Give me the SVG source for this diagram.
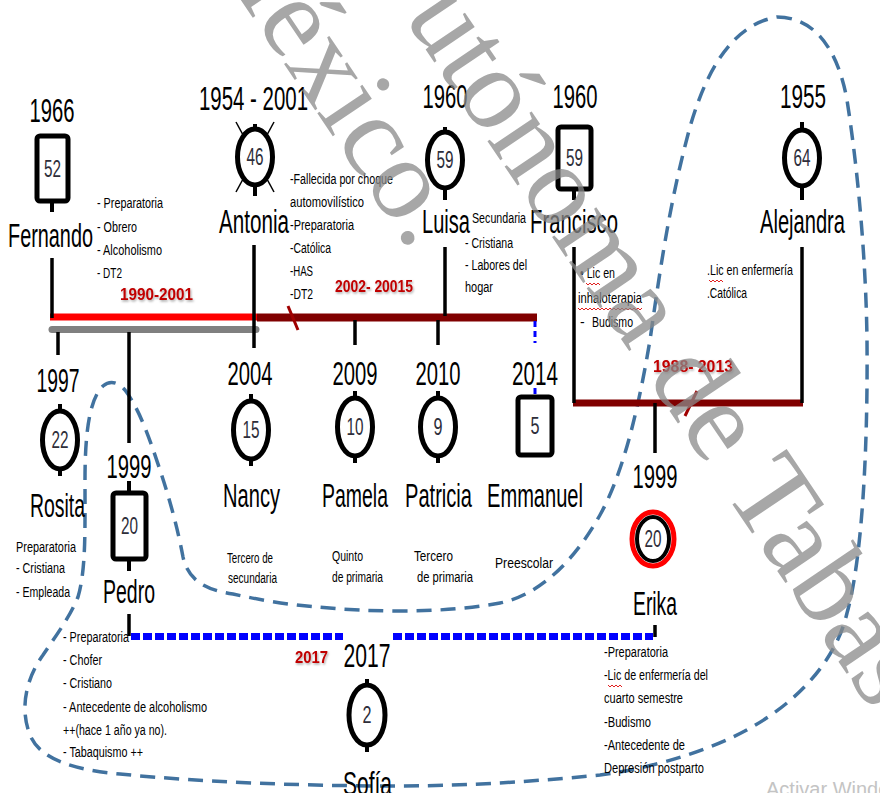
<svg xmlns="http://www.w3.org/2000/svg" width="880" height="793" viewBox="0 0 880 793">
<defs>
<style>
.nm{font-family:"Liberation Sans Narrow","Liberation Sans",Arial,sans-serif;font-size:34px;fill:#000}
.num{font-family:"Liberation Sans Narrow","Liberation Sans",Arial,sans-serif;font-size:23px;fill:#2e2e3a}
.d{font-family:"Liberation Sans Narrow","Liberation Sans",Arial,sans-serif;font-size:14px;fill:#000}
.lb{font-family:"Liberation Sans Narrow","Liberation Sans",Arial,sans-serif;font-size:17px;font-weight:bold;fill:#c00000;filter:url(#sh)}
.nd{fill:#fff;stroke:#000;stroke-width:5}
.ln{stroke:#000;stroke-width:3.5;fill:none}
.stub{stroke:#000;stroke-width:4}
.hh{fill:none;stroke:#41729f;stroke-width:3.5;stroke-dasharray:15 9}
.wm{font-family:"Liberation Serif","Times New Roman",serif;font-size:116px;fill:#8a8a8a;opacity:.75}
.sq{fill:none;stroke:#e02020;stroke-width:1}
</style>
<filter id="sh" x="-10%" y="-30%" width="130%" height="170%"><feDropShadow dx="1" dy="1.5" stdDeviation="0.8" flood-color="#000" flood-opacity="0.35"/></filter>
</defs>
<rect width="880" height="793" fill="#fff"/>

<path class="hh" d="M777,17 C815,17 838,50 847,100 C858,170 866,260 867,340 C868,450 862,560 847,613 C835,665 790,710 733,737 C690,757 640,770 600,775 C520,783 450,786 400,786 C300,786 200,782 120,774 C75,770 40,760 30,735 C20,710 25,680 43,655 C55,637 70,617 78,597 C86,570 85,530 85,480 C85,440 88,400 103,386 C110,380 118,382 125,390 C140,410 150,440 160,470 C170,500 178,530 183,557 C188,580 205,590 233,594 C260,600 290,605 317,607 C370,612 440,614 500,603 C540,595 575,560 600,515 C625,470 640,400 650,340 C660,270 670,200 690,127 C705,75 730,25 777,17 Z"/>

<g id="connectors">
<path d="M50,317 H257" stroke="#ff0000" stroke-width="7"/>
<path d="M257,317.5 H537" stroke="#800000" stroke-width="8"/>
<path d="M52,329.5 H256" stroke="#808080" stroke-width="7" stroke-linecap="round"/>
<path d="M573,403 H803" stroke="#800000" stroke-width="7"/>
<line x1="288" y1="306" x2="298" y2="330" stroke="#a00000" stroke-width="3"/>
<line x1="697" y1="391" x2="685" y2="416" stroke="#a00000" stroke-width="3"/>
<line class="ln" x1="52" y1="258" x2="52" y2="318"/>
<line class="ln" x1="254" y1="245" x2="254" y2="348"/>
<line class="ln" x1="445" y1="247" x2="445" y2="316"/>
<line class="ln" x1="355" y1="320" x2="355" y2="345"/>
<line class="ln" x1="438" y1="320" x2="438" y2="345"/>
<line class="ln" x1="58" y1="332" x2="58" y2="355"/>
<line class="ln" x1="129" y1="332" x2="129" y2="443"/>
<line class="ln" x1="574" y1="247" x2="574" y2="403"/>
<line class="ln" x1="802" y1="247" x2="802" y2="403"/>
<line class="ln" x1="655" y1="403" x2="655" y2="453"/>
<line class="ln" x1="129" y1="614" x2="129" y2="636"/>
<line class="ln" x1="655" y1="625" x2="655" y2="637"/>
<path d="M535,321 V343 M535,388 V397" stroke="#0000ff" stroke-width="3" stroke-dasharray="6 4"/>
<path d="M131,636.5 H343 M393,636.5 H653" stroke="#0000ff" stroke-width="7" stroke-dasharray="9 3"/>
</g>

<g id="fernando">
<text class="nm" x="52" y="122" text-anchor="middle" textLength="45" lengthAdjust="spacingAndGlyphs">1966</text>
<rect class="nd" x="37" y="136" width="31" height="65" rx="3"/>
<text class="num" x="52.5" y="177" text-anchor="middle" textLength="17" lengthAdjust="spacingAndGlyphs">52</text>
<line class="stub" x1="52" y1="201" x2="52" y2="212"/>
<text class="nm" x="8" y="247" textLength="85" lengthAdjust="spacingAndGlyphs">Fernando</text>
<text class="d" x="97" y="208" textLength="66" lengthAdjust="spacingAndGlyphs">- Preparatoria</text>
<text class="d" x="97" y="232" textLength="40" lengthAdjust="spacingAndGlyphs">- Obrero</text>
<text class="d" x="97" y="255" textLength="65" lengthAdjust="spacingAndGlyphs">- Alcoholismo</text>
<text class="d" x="97" y="278" textLength="25" lengthAdjust="spacingAndGlyphs">- DT2</text>
</g>

<g id="antonia">
<text class="nm" x="199" y="110" textLength="109" lengthAdjust="spacingAndGlyphs">1954 - 2001</text>
<line x1="236" y1="122" x2="274" y2="192" stroke="#000" stroke-width="1.5"/>
<line x1="274" y1="122" x2="236" y2="192" stroke="#000" stroke-width="1.5"/>
<line class="stub" x1="255" y1="124" x2="255" y2="130"/>
<ellipse class="nd" cx="255" cy="157" rx="17.5" ry="28"/>
<line class="stub" x1="255" y1="185" x2="255" y2="196"/>
<text class="num" x="255" y="165" text-anchor="middle" textLength="17" lengthAdjust="spacingAndGlyphs">46</text>
<text class="nm" x="219" y="233" textLength="70" lengthAdjust="spacingAndGlyphs">Antonia</text>
<text class="d" x="290" y="184" textLength="103" lengthAdjust="spacingAndGlyphs">-Fallecida por choque</text>
<text class="d" x="290" y="207" textLength="74" lengthAdjust="spacingAndGlyphs">automovilístico</text>
<text class="d" x="290" y="230" textLength="64" lengthAdjust="spacingAndGlyphs">-Preparatoria</text>
<text class="d" x="290" y="253" textLength="41" lengthAdjust="spacingAndGlyphs">-Católica</text>
<text class="d" x="290" y="276" textLength="23" lengthAdjust="spacingAndGlyphs">-HAS</text>
<text class="d" x="290" y="299" textLength="23" lengthAdjust="spacingAndGlyphs">-DT2</text>
</g>

<g id="luisa">
<text class="nm" x="445" y="108" text-anchor="middle" textLength="45" lengthAdjust="spacingAndGlyphs">1960</text>
<line class="stub" x1="445" y1="127" x2="445" y2="133"/>
<ellipse class="nd" cx="445" cy="160" rx="17.5" ry="28"/>
<line class="stub" x1="445" y1="188" x2="445" y2="200"/>
<text class="num" x="445" y="168" text-anchor="middle" textLength="17" lengthAdjust="spacingAndGlyphs">59</text>
<text class="nm" x="422" y="233" textLength="48" lengthAdjust="spacingAndGlyphs">Luisa</text>
<text class="d" x="472" y="223" textLength="54" lengthAdjust="spacingAndGlyphs">Secundaria</text>
<text class="d" x="465" y="248" textLength="48" lengthAdjust="spacingAndGlyphs">- Cristiana</text>
<text class="d" x="465" y="270" textLength="62" lengthAdjust="spacingAndGlyphs">- Labores del</text>
<text class="d" x="465" y="292" textLength="28" lengthAdjust="spacingAndGlyphs">hogar</text>
</g>

<g id="francisco">
<text class="nm" x="575" y="108" text-anchor="middle" textLength="45" lengthAdjust="spacingAndGlyphs">1960</text>
<rect class="nd" x="558" y="127" width="33" height="62" rx="3"/>
<line class="stub" x1="574" y1="189" x2="574" y2="200"/>
<text class="num" x="574.5" y="166" text-anchor="middle" textLength="17" lengthAdjust="spacingAndGlyphs">59</text>
<text class="nm" x="530" y="233" textLength="88" lengthAdjust="spacingAndGlyphs">Francisco</text>
<text class="d" x="580" y="278" textLength="35" lengthAdjust="spacingAndGlyphs">• Lic en</text>
<text class="d" x="578" y="303" textLength="64" lengthAdjust="spacingAndGlyphs">inhaloterapia</text>
<text class="d" x="580" y="327">-</text>
<text class="d" x="592" y="327" textLength="41" lengthAdjust="spacingAndGlyphs">Budismo</text>
<path class="sq" d="M586,283 l2,2 l2,-2 l2,2 l2,-2 l2,2 l2,-2 l2,2"/>
<path class="sq" d="M578,308 l2,2 l2,-2 l2,2 l2,-2 l2,2 l2,-2 l2,2 l2,-2 l2,2 l2,-2 l2,2 l2,-2 l2,2 l2,-2 l2,2 l2,-2 l2,2 l2,-2 l2,2 l2,-2 l2,2 l2,-2 l2,2 l2,-2 l2,2 l2,-2 l2,2 l2,-2 l2,2 l2,-2 l2,2 l2,-2"/>
</g>

<g id="alejandra">
<text class="nm" x="803" y="108" text-anchor="middle" textLength="46" lengthAdjust="spacingAndGlyphs">1955</text>
<line class="stub" x1="802" y1="122" x2="802" y2="131" stroke-width="6"/>
<ellipse class="nd" cx="802" cy="158" rx="17.5" ry="28"/>
<line class="stub" x1="802" y1="186" x2="802" y2="200"/>
<text class="num" x="802" y="166" text-anchor="middle" textLength="17" lengthAdjust="spacingAndGlyphs">64</text>
<text class="nm" x="760" y="233" textLength="85" lengthAdjust="spacingAndGlyphs">Alejandra</text>
<text class="d" x="707" y="275" textLength="86" lengthAdjust="spacingAndGlyphs">.Lic en enfermería</text>
<text class="d" x="707" y="298" textLength="40" lengthAdjust="spacingAndGlyphs">.Católica</text>
<path class="sq" d="M709,280 l2,2 l2,-2 l2,2 l2,-2 l2,2 l2,-2 l2,2"/>
</g>

<g id="rosita">
<text class="nm" x="58" y="392" text-anchor="middle" textLength="43" lengthAdjust="spacingAndGlyphs">1997</text>
<line class="stub" x1="60" y1="404" x2="60" y2="411"/>
<ellipse class="nd" cx="60" cy="440" rx="17.5" ry="29"/>
<line class="stub" x1="60" y1="469" x2="60" y2="476"/>
<text class="num" x="60" y="448" text-anchor="middle" textLength="17" lengthAdjust="spacingAndGlyphs">22</text>
<text class="nm" x="30" y="517" textLength="55" lengthAdjust="spacingAndGlyphs">Rosita</text>
<text class="d" x="16" y="552" textLength="60" lengthAdjust="spacingAndGlyphs">Preparatoria</text>
<text class="d" x="16" y="573" textLength="49" lengthAdjust="spacingAndGlyphs">- Cristiana</text>
<text class="d" x="16" y="597" textLength="54" lengthAdjust="spacingAndGlyphs">- Empleada</text>
</g>

<g id="pedro">
<text class="nm" x="129" y="478" text-anchor="middle" textLength="45" lengthAdjust="spacingAndGlyphs">1999</text>
<line class="stub" x1="129" y1="481" x2="129" y2="493"/>
<rect class="nd" x="113" y="493" width="33" height="66" rx="3"/>
<line class="stub" x1="129" y1="559" x2="129" y2="571"/>
<text class="num" x="129.5" y="534" text-anchor="middle" textLength="17" lengthAdjust="spacingAndGlyphs">20</text>
<text class="nm" x="103" y="603" textLength="52" lengthAdjust="spacingAndGlyphs">Pedro</text>
<text class="d" x="63" y="642" textLength="66" lengthAdjust="spacingAndGlyphs">- Preparatoria</text>
<text class="d" x="63" y="665" textLength="39" lengthAdjust="spacingAndGlyphs">- Chofer</text>
<text class="d" x="63" y="688" textLength="49" lengthAdjust="spacingAndGlyphs">- Cristiano</text>
<text class="d" x="63" y="712" textLength="144" lengthAdjust="spacingAndGlyphs">- Antecedente de alcoholismo</text>
<text class="d" x="63" y="735" textLength="104" lengthAdjust="spacingAndGlyphs">++(hace 1 año ya no).</text>
<text class="d" x="63" y="757" textLength="80" lengthAdjust="spacingAndGlyphs">- Tabaquismo ++</text>
</g>

<g id="nancy">
<text class="nm" x="250" y="385" text-anchor="middle" textLength="45" lengthAdjust="spacingAndGlyphs">2004</text>
<line class="stub" x1="251" y1="394" x2="251" y2="401"/>
<ellipse class="nd" cx="251" cy="430" rx="17.5" ry="29"/>
<line class="stub" x1="251" y1="459" x2="251" y2="466"/>
<text class="num" x="251" y="438" text-anchor="middle" textLength="17" lengthAdjust="spacingAndGlyphs">15</text>
<text class="nm" x="223" y="507" textLength="57" lengthAdjust="spacingAndGlyphs">Nancy</text>
<text class="d" x="227" y="563" textLength="46" lengthAdjust="spacingAndGlyphs">Tercero de</text>
<text class="d" x="228" y="583" textLength="49" lengthAdjust="spacingAndGlyphs">secundaria</text>
</g>

<g id="pamela">
<text class="nm" x="355" y="385" text-anchor="middle" textLength="45" lengthAdjust="spacingAndGlyphs">2009</text>
<line class="stub" x1="355" y1="391" x2="355" y2="398"/>
<ellipse class="nd" cx="355" cy="427" rx="17.5" ry="29"/>
<line class="stub" x1="355" y1="456" x2="355" y2="463"/>
<text class="num" x="355" y="435" text-anchor="middle" textLength="17" lengthAdjust="spacingAndGlyphs">10</text>
<text class="nm" x="322" y="507" textLength="66" lengthAdjust="spacingAndGlyphs">Pamela</text>
<text class="d" x="332" y="561" textLength="31" lengthAdjust="spacingAndGlyphs">Quinto</text>
<text class="d" x="332" y="582" textLength="51" lengthAdjust="spacingAndGlyphs">de primaria</text>
</g>

<g id="patricia">
<text class="nm" x="438" y="385" text-anchor="middle" textLength="45" lengthAdjust="spacingAndGlyphs">2010</text>
<line class="stub" x1="438" y1="391" x2="438" y2="398"/>
<ellipse class="nd" cx="438" cy="427" rx="17.5" ry="29"/>
<line class="stub" x1="438" y1="456" x2="438" y2="463"/>
<text class="num" x="438" y="435" text-anchor="middle" textLength="9" lengthAdjust="spacingAndGlyphs">9</text>
<text class="nm" x="405" y="507" textLength="67" lengthAdjust="spacingAndGlyphs">Patricia</text>
<text class="d" x="414" y="561" textLength="39" lengthAdjust="spacingAndGlyphs">Tercero</text>
<text class="d" x="417" y="582" textLength="56" lengthAdjust="spacingAndGlyphs">de primaria</text>
</g>

<g id="emmanuel">
<text class="nm" x="535" y="385" text-anchor="middle" textLength="46" lengthAdjust="spacingAndGlyphs">2014</text>
<rect class="nd" x="518" y="397" width="34" height="58" rx="3"/>
<text class="num" x="535" y="434" text-anchor="middle" textLength="9" lengthAdjust="spacingAndGlyphs">5</text>
<text class="nm" x="487" y="507" textLength="96" lengthAdjust="spacingAndGlyphs">Emmanuel</text>
<text class="d" x="495" y="568" font-size="15" textLength="58" lengthAdjust="spacingAndGlyphs">Preescolar</text>
</g>

<g id="erika">
<text class="nm" x="655" y="488" text-anchor="middle" textLength="45" lengthAdjust="spacingAndGlyphs">1999</text>
<ellipse cx="653" cy="539" rx="21" ry="27" fill="#fff" stroke="#ff0000" stroke-width="5"/>
<ellipse cx="653" cy="539" rx="16" ry="22" fill="#fff" stroke="#000" stroke-width="4"/>
<text class="num" x="653" y="547" text-anchor="middle" textLength="17" lengthAdjust="spacingAndGlyphs">20</text>
<text class="nm" x="633" y="615" textLength="44" lengthAdjust="spacingAndGlyphs">Erika</text>
<text class="d" x="604" y="657" textLength="64" lengthAdjust="spacingAndGlyphs">-Preparatoria</text>
<text class="d" x="604" y="680" textLength="104" lengthAdjust="spacingAndGlyphs">-Lic de enfermería del</text>
<text class="d" x="604" y="703" textLength="79" lengthAdjust="spacingAndGlyphs">cuarto semestre</text>
<text class="d" x="604" y="727" textLength="47" lengthAdjust="spacingAndGlyphs">-Budismo</text>
<text class="d" x="604" y="750" textLength="81" lengthAdjust="spacingAndGlyphs">-Antecedente de</text>
<text class="d" x="604" y="773" textLength="100" lengthAdjust="spacingAndGlyphs">Depresión postparto</text>
<path class="sq" d="M608,685 l2,2 l2,-2 l2,2 l2,-2 l2,2 l2,-2 l2,2"/>
</g>

<g id="sofia">
<text class="nm" x="367" y="667" text-anchor="middle" textLength="47" lengthAdjust="spacingAndGlyphs">2017</text>
<line class="stub" x1="367" y1="679" x2="367" y2="686"/>
<ellipse class="nd" cx="367" cy="715" rx="18" ry="30"/>
<line class="stub" x1="367" y1="745" x2="367" y2="752"/>
<text class="num" x="367" y="723" text-anchor="middle" textLength="9" lengthAdjust="spacingAndGlyphs">2</text>
<text class="nm" x="343" y="795" textLength="49" lengthAdjust="spacingAndGlyphs">Sofía</text>
</g>

<g id="labels">
<text class="lb" x="120" y="300" textLength="73" lengthAdjust="spacingAndGlyphs">1990-2001</text>
<text class="lb" x="335" y="292" textLength="78" lengthAdjust="spacingAndGlyphs">2002- 20015</text>
<text class="lb" x="653" y="372" textLength="80" lengthAdjust="spacingAndGlyphs">1988- 2013</text>
<text class="lb" x="295" y="663" textLength="33" lengthAdjust="spacingAndGlyphs">2017</text>
</g>

<g id="watermark">
<text class="wm" transform="translate(403,16) rotate(56)">utónoma de Tabasco</text>
<text class="wm" transform="translate(197,-65) rotate(56)">México.</text>
<text x="766" y="796" font-family="'Liberation Sans',Arial,sans-serif" font-size="20" fill="#c4c4c4">Activar Windows</text>
</g>
</svg>
